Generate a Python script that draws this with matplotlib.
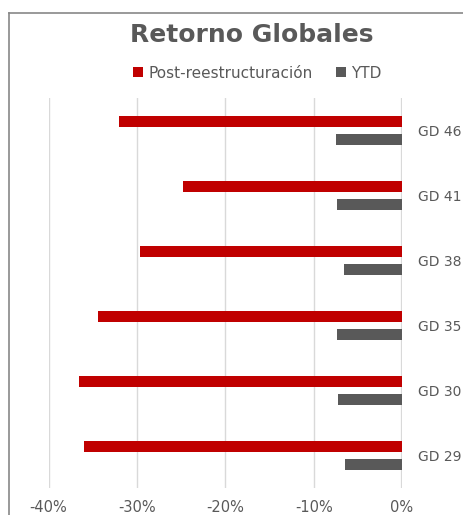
import matplotlib
matplotlib.use("Agg")
import matplotlib.pyplot as plt
from matplotlib.patches import Patch
from matplotlib.lines import Line2D
import numpy as np

# Data (bottom to top)
categories = ['GD 29', 'GD 30', 'GD 35', 'GD 38', 'GD 41', 'GD 46']
post_reestructuracion = [-36.0, -36.5, -34.4, -29.7, -24.8, -32.0]
ytd = [-6.5, -7.2, -7.4, -6.6, -7.3, -7.5]
x_ticks = [-40, -30, -20, -10, 0]
x_tick_labels = ['-40%', '-30%', '-20%', '-10%', '0%']
series_names = ['Post-reestructuración', 'YTD']

RED = '#C00000'
GRAY = '#595959'
TEXT = '#595959'
GRID = '#D9D9D9'

plt.rcParams['font.family'] = ['DejaVu Sans']

W, H = 463, 515
fig = plt.figure(figsize=(W / 100, H / 100), dpi=100)
fig.patch.set_facecolor('white')

# plot area
left_px, right_px, top_px, bottom_px = 48.5, 402, 98, 488
ax = fig.add_axes([left_px / W, 1 - bottom_px / H, (right_px - left_px) / W, (bottom_px - top_px) / H])

y = np.arange(len(categories))
h = 0.169
off = 0.143
ax.barh(y + off, post_reestructuracion, height=h, color=RED, zorder=3)
ax.barh(y - off, ytd, height=h, color=GRAY, zorder=3)

ax.set_xlim(-40, 0)
ax.set_ylim(-0.5, len(categories) - 0.5)

ax.set_xticks(x_ticks)
ax.set_xticklabels(x_tick_labels)
for xt in x_ticks[:-1]:
    ax.axvline(xt, color=GRID, lw=1.0, zorder=0)
ax.axvline(0, color=GRID, lw=1.6, zorder=1)

ax.yaxis.tick_right()
ax.set_yticks(y)
ax.set_yticklabels(categories)
ax.tick_params(axis='y', length=0, pad=11.5, labelsize=10, labelcolor=TEXT)
ax.tick_params(axis='x', length=0, pad=8.5, labelsize=10.5, labelcolor=TEXT)

for s in ax.spines.values():
    s.set_visible(False)

# Title
fig.text(251.7 / W, 1 - 35 / H, 'Retorno Globales', ha='center', va='center',
         fontsize=18, fontweight='bold', color=TEXT)

# Legend
handles = [Patch(facecolor=RED, edgecolor='none'), Patch(facecolor=GRAY, edgecolor='none')]
fig.legend(handles, series_names, loc='center', bbox_to_anchor=(257.5 / W, 1 - 73 / H),
           ncol=2, frameon=False, fontsize=11, labelcolor=TEXT,
           handlelength=0.65, handleheight=0.65, handletextpad=0.35, columnspacing=1.5,
           borderpad=0, borderaxespad=0)

# Chart frame (left and top edges visible)
fx = 8.5 / W
fy = 1 - 12.5 / H
fig.add_artist(Line2D([fx, fx], [0, fy], transform=fig.transFigure, color='#878787', lw=1.2))
fig.add_artist(Line2D([fx, 1], [fy, fy], transform=fig.transFigure, color='#878787', lw=1.2))

fig.savefig('out.png', dpi=100, facecolor='white')
